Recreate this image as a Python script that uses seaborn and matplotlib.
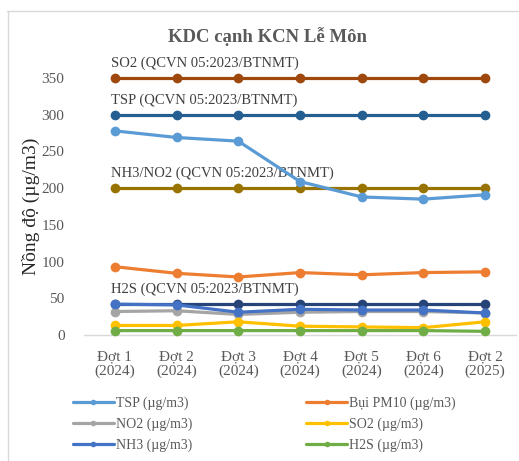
import numpy as np
import pandas as pd
import matplotlib
matplotlib.use("Agg")
import matplotlib.pyplot as plt
from matplotlib.lines import Line2D
import seaborn as sns

# Monitoring rounds
periods = ["Đợt 1\n(2024)", "Đợt 2\n(2024)", "Đợt 3\n(2024)", "Đợt 4\n(2024)",
           "Đợt 5\n(2024)", "Đợt 6\n(2024)", "Đợt 2\n(2025)"]

# Measured concentrations (µg/m3)
tsp = [278, 269, 264, 209, 188, 185, 191]
pm10 = [93, 84, 79, 85, 82, 85, 86]
no2 = [32, 33, 28, 31, 32, 32, 30]
so2 = [13, 13, 18, 12, 11, 10, 18]
nh3 = [42, 41, 31, 35, 34, 34, 30]
h2s = [6, 6, 6, 6, 6, 6, 5]

# Limit values, QCVN 05:2023/BTNMT
lim_so2 = [350] * 7
lim_tsp = [300] * 7
lim_nh3_no2 = [200] * 7
lim_h2s = [42] * 7

limit_labels = ["SO2 (QCVN 05:2023/BTNMT)", "TSP (QCVN 05:2023/BTNMT)",
                "NH3/NO2 (QCVN 05:2023/BTNMT)", "H2S (QCVN 05:2023/BTNMT)"]

sns.set_theme(style="white")
plt.rcParams["font.family"] = ["Liberation Serif", "DejaVu Serif"]

fig = plt.figure(figsize=(5.19, 4.61), dpi=100)
ax = fig.add_axes([84 / 519, (461 - 335) / 461, (516 - 84) / 519, (335 - 78) / 461])

x = np.arange(len(periods))

limits = [
    (lim_so2, "#9E480E", limit_labels[0]),
    (lim_tsp, "#255E91", limit_labels[1]),
    (lim_nh3_no2, "#997300", limit_labels[2]),
    (lim_h2s, "#264478", limit_labels[3]),
]
series = [
    (tsp, "#5B9BD5", "TSP (µg/m3)"),
    (no2, "#A5A5A5", "NO2 (µg/m3)"),
    (nh3, "#4472C4", "NH3 (µg/m3)"),
    (pm10, "#ED7D31", "Bụi PM10 (µg/m3)"),
    (so2, "#FFC000", "SO2 (µg/m3)"),
    (h2s, "#70AD47", "H2S (µg/m3)"),
]

draw_order = [series[1], series[2], series[0], series[3], series[4], series[5]]
for vals, col, lab in limits:
    sns.lineplot(x=x, y=vals, ax=ax, color=col, linewidth=2.3, marker="o",
                 markersize=7, markeredgewidth=0, clip_on=False, zorder=3)
    ax.annotate(lab, (x[0], vals[0]), xytext=(-3, 10.5), textcoords="offset points",
                ha="left", va="center", fontsize=10.5, color="#404040")

for vals, col, lab in draw_order:
    sns.lineplot(x=x, y=vals, ax=ax, color=col, linewidth=2.3, marker="o",
                 markersize=7, markeredgewidth=0, clip_on=False, zorder=4)

ax.set_xlim(-0.5, len(periods) - 0.5)
ax.set_ylim(0, 350)
ax.set_yticks(np.arange(0, 351, 50))
ax.set_xticks(x)
ax.set_xticklabels(periods, linespacing=1.1)
ax.tick_params(axis="both", length=0, labelsize=11, labelcolor="#595959")
ax.tick_params(axis="x", pad=11)
ax.tick_params(axis="y", pad=14)
for s in ["top", "right", "left"]:
    ax.spines[s].set_visible(False)
ax.spines["bottom"].set_color("#D9D9D9")
ax.spines["bottom"].set_linewidth(1)

ax.set_ylabel("Nồng độ (µg/m3)", fontsize=14, color="#262626", labelpad=1)
fig.text(267 / 519, 1 - 37 / 461, "KDC cạnh KCN Lễ Môn", ha="center", va="center",
         fontsize=13.5, fontweight="bold", color="#595959")

handles = [Line2D([0], [0], color=c, linewidth=2.3, marker="o", markersize=4,
                  markeredgewidth=0) for _, c, _ in series]
labels = [l for _, _, l in series]
fig.legend(handles, labels, ncol=2, loc="center left",
           bbox_to_anchor=(60 / 519, 1 - 424 / 461), frameon=False,
           fontsize=10, handlelength=3.0, handletextpad=0.1, columnspacing=8.2,
           labelspacing=0.55, labelcolor="#595959")

# light chart-area border
fig.add_artist(Line2D([7 / 519, 1], [1 - 11.5 / 461] * 2, color="#D9D9D9", linewidth=1))
fig.add_artist(Line2D([7.5 / 519] * 2, [0, 1 - 11.5 / 461], color="#D9D9D9", linewidth=1))

fig.savefig("out.png", dpi=100, facecolor="white")
